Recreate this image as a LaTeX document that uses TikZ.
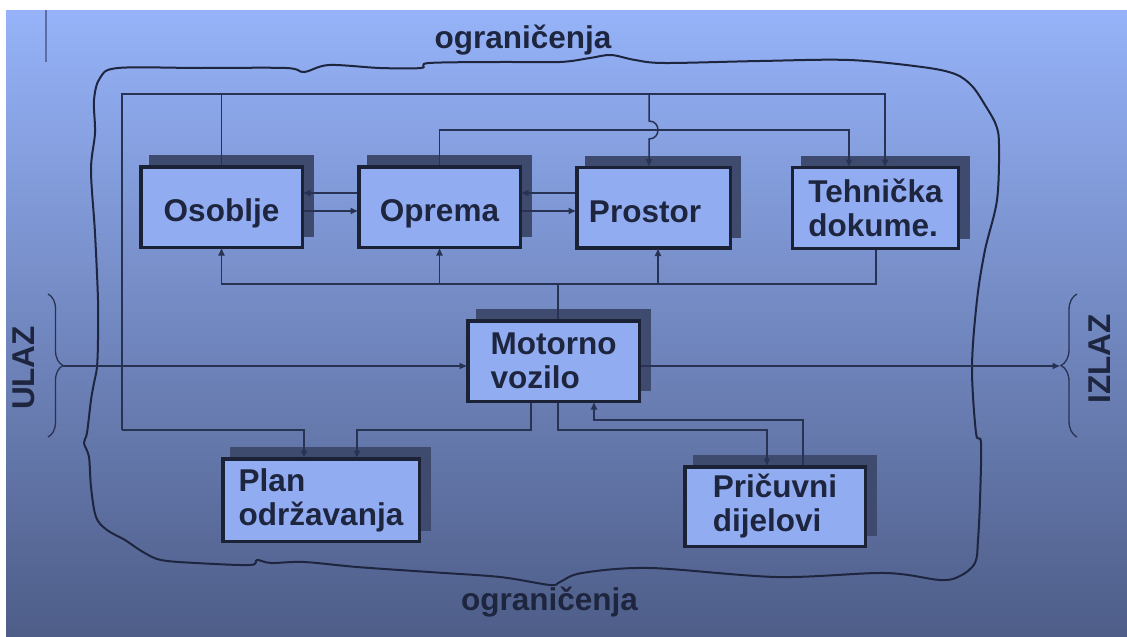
\documentclass[tikz,border=0pt]{standalone}
\usepackage{fontspec}
\setmainfont{Liberation Sans}
\usetikzlibrary{arrows.meta,shadows,decorations.pathreplacing}
\definecolor{bgtop}{RGB}{150,179,249}
\definecolor{bgmid}{RGB}{124,150,216}
\definecolor{bgbot}{RGB}{78,93,136}
\definecolor{boxfill}{RGB}{146,172,242}
\definecolor{shadowc}{RGB}{62,74,110}
\definecolor{boxborder}{RGB}{28,34,54}
\definecolor{txt}{RGB}{30,37,62}
\definecolor{linec}{RGB}{40,50,82}
\definecolor{cloudc}{RGB}{30,37,62}
\definecolor{tickc}{RGB}{90,110,165}
\tikzset{
  box/.style={draw=boxborder, line width=3.5pt, fill=boxfill, text=txt,
    font=\bfseries\fontsize{31.5}{34}\selectfont, align=left, inner sep=0pt,
    general shadow={fill=shadowc, shadow xshift=9.5pt, shadow yshift=10.5pt, shadow scale=1.02}},
  oneline/.style={text height=29pt, text depth=0pt},
  conn/.style={draw=linec, line width=1.5pt},
  arr/.style={conn, -{Latex[length=8pt,width=7pt]}, shorten >=-1.5pt},
  curly/.style={draw=linec, line width=1.3pt, decorate, decoration={brace, amplitude=#1}},
  cloudline/.style={draw=cloudc, line width=2pt},
  bigtext/.style={text=txt, font=\bfseries\fontsize{31.5}{34}\selectfont, inner sep=0pt},
}
\begin{document}
\begin{tikzpicture}[x=1pt,y=-1pt]
\useasboundingbox (0,0) rectangle (1127,637);
\fill[white] (0,0) rectangle (1127,637);
\shade[top color=bgtop, middle color=bgmid, bottom color=bgbot] (6,10) rectangle (1127,637);
\draw[tickc, line width=2pt] (46,10) -- (46,62);

% boundary
\draw[cloudline] plot[smooth cycle, tension=0.55] coordinates {
(100,78) (118,68) (200,68) (286,68) (304,72) (329,65) (380,68) (421,68) (429,63) (500,62)
(560,62) (590,58) (611,55) (635,60) (665,63) (760,61) (849,60) (922,67) (955,74) (972,86)
(985,105) (996,125) (999,145) (997,200) (985,250) (977,300) (972,367) (976,433) (981,443)
(980,500) (978,540) (975,563) (960,576) (940,580) (885,573) (777,577) (650,568) (582,573)
(560,582) (550,585) (500,577) (429,572) (357,567) (304,562) (271,563) (257,560) (250,565)
(196,563) (161,560) (143,552) (125,540) (107,530) (96,517) (91,487) (89,457) (84,443)
(87,433) (91,400) (94,383) (97,367) (98,340) (98,300) (95,233) (91,170) (95,133) (94,100)};

\node[bigtext, anchor=base] (ogrtop) at (523,48) {ograničenja};
\node[bigtext, anchor=base] (ogrbot) at (549.5,610) {ograničenja};
\node[bigtext, rotate=90] (ulaz) at (24,368) {ULAZ};
\node[bigtext, rotate=90] (izlaz) at (1100,359) {IZLAZ};

% boxes
\node[box, oneline, minimum width=161.5pt, minimum height=80.5pt] (osoblje) at (221.5,207) {Osoblje};
\node[box, oneline, minimum width=161.5pt, minimum height=80.5pt] (oprema) at (439.5,207) {Oprema};
\node[box, oneline, minimum width=153.5pt, minimum height=80.5pt] (prostor) at (653.5,207.5) {Prostor\hspace*{17pt}};
\node[box, line width=2.8pt, minimum width=166pt, minimum height=81pt] (tehnicka) at (875.5,208) {Tehnička\\dokume.};
\node[box, minimum width=171.5pt, minimum height=80.5pt] (motorno) at (553.5,361) {Motorno\\vozilo};
\node[box, minimum width=196.5pt, minimum height=82.5pt] (plan) at (321,500) {Plan\\održavanja};
\node[box, minimum width=180.5pt, minimum height=79.5pt] (pricuvni) at (775,506.5) {Pričuvni\\dijelovi};

% junction coordinates
\coordinate (tl) at (122,94);
\coordinate (tr) at (885,94);
\coordinate (bl) at (122,430);
\coordinate (pl1) at (304,430);
\coordinate (pv) at (649,94);
\coordinate (hopa) at (649,121);
\coordinate (hopb) at (649,139);
\coordinate (tk1) at (849,130);
\coordinate (bb) at (876,284);
\coordinate (pb) at (658,284);
\coordinate (mt) at (558,284);
\coordinate (r1) at (0,193);
\coordinate (r2) at (0,211);
\coordinate (mp) at (531,430);
\coordinate (pl2) at (357,430);
\coordinate (mq) at (558,430);
\coordinate (pq) at (767,430);
\coordinate (qa) at (803,420);
\coordinate (qb) at (594,420);
\coordinate (ulaztip) at (63,366);
\coordinate (izlaztip) at (1059,366);

% braces
\draw[curly=15pt] (48,294) -- (48,437);
\draw[curly=16pt] (1077,437) -- (1077,294);

% connectors
\draw[conn] (osoblje.north) -- (osoblje.north |- tl);
\draw[arr] (bl) -- (tl) -- (tr) -- (tr |- tehnicka.north);
\draw[arr] (bl) -- (pl1) -- (pl1 |- plan.north);
\draw[arr] (pv) -- (hopa) .. controls (661,121) and (661,139) .. (hopb) -- (hopb |- prostor.north);
\draw[arr] (oprema.north) |- (tk1) -- (tk1 |- tehnicka.north);

\draw[arr] (oprema.west |- r1) -- (osoblje.east |- r1);
\draw[arr] (osoblje.east |- r2) -- (oprema.west |- r2);
\draw[arr] (prostor.west |- r1) -- (oprema.east |- r1);
\draw[arr] (oprema.east |- r2) -- (prostor.west |- r2);

\draw[arr] (tehnicka.south -| bb) |- (bb -| osoblje.south) -- (osoblje.south);
\draw[arr] (bb -| oprema.south) -- (oprema.south);
\draw[arr] (pb) -- (pb |- prostor.south);
\draw[conn] (motorno.north -| mt) -- (mt);

\draw[arr] (ulaztip) -- (ulaztip -| motorno.west);
\draw[arr] (motorno.east |- izlaztip) -- (izlaztip);

\draw[arr] (motorno.south -| mp) -- (mp) -- (pl2) -- (pl2 |- plan.north);
\draw[arr] (motorno.south -| mq) -- (mq) -- (pq) -- (pq |- pricuvni.north);
\draw[arr] (pricuvni.north -| qa) -- (qa) -- (qb) -- (qb |- motorno.south);
\end{tikzpicture}
\end{document}
